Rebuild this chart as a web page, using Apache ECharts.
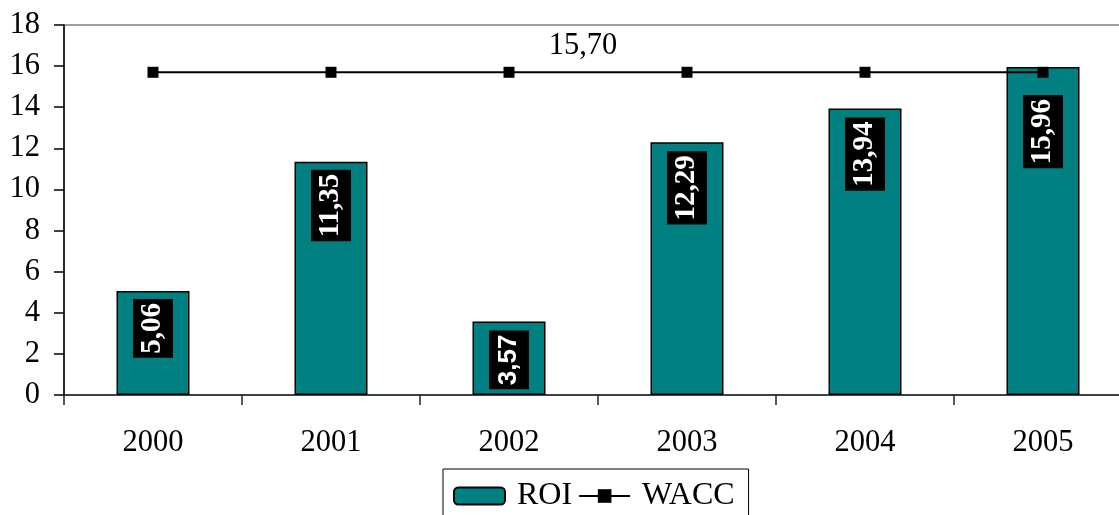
<!DOCTYPE html>
<html>
<head>
<meta charset="utf-8">
<script src="https://cdn.jsdelivr.net/npm/echarts@6/dist/echarts.min.js"></script>
<style>
  html, body { margin: 0; padding: 0; background: #fff; }
  #chart { width: 1119px; height: 515px; }
</style>
</head>
<body>
<div id="chart"></div>
<script>
// Yearly return on investment vs. weighted average cost of capital
const years = ['2000', '2001', '2002', '2003', '2004', '2005'];
const roi = [5.06, 11.35, 3.57, 12.29, 13.94, 15.96];
const wacc = [15.70, 15.70, 15.70, 15.70, 15.70, 15.70];
const yTicks = { min: 0, max: 18, step: 2 };

const serif = 'Liberation Serif';
const fmt = v => v.toFixed(2).replace('.', ',');

// distance of each rotated value box below its bar's top
const labelGap = [8, 8, 9, 9, 9, 28];

const chart = echarts.init(document.getElementById('chart'), null, { renderer: 'canvas' });

chart.setOption({
  animation: false,
  backgroundColor: '#fff',
  grid: {
    left: 64, top: 25, right: -13, bottom: 120,
    outerBoundsMode: 'none',
    show: true, borderColor: '#808080', borderWidth: 1.5, backgroundColor: 'transparent'
  },
  legend: {
    left: 443, top: 469,
    padding: [11, 14, 40, 10],
    borderColor: '#000', borderWidth: 1,
    itemWidth: 51, itemHeight: 17, itemGap: 6,
    textStyle: { fontFamily: serif, fontSize: 32, color: '#000', padding: [0, 0, 0, 7] },
    data: ['ROI', 'WACC']
  },
  xAxis: {
    type: 'category',
    data: years,
    boundaryGap: true,
    axisLine: { lineStyle: { color: '#222', width: 1.5 } },
    axisTick: { show: true, length: 10, lineStyle: { color: '#222', width: 1.5 } },
    axisLabel: { fontFamily: serif, fontSize: 30.5, color: '#000', margin: 32 }
  },
  yAxis: {
    type: 'value',
    min: yTicks.min, max: yTicks.max, interval: yTicks.step,
    splitLine: { show: false },
    axisLine: { show: true, lineStyle: { color: '#000', width: 1.5 } },
    axisTick: { show: true, length: 10, lineStyle: { color: '#000', width: 1.5 } },
    axisLabel: { fontFamily: serif, fontSize: 30.5, color: '#000', margin: 24 }
  },
  series: [
    {
      name: 'ROI',
      type: 'bar',
      barWidth: 73,
      itemStyle: { color: '#008080', borderColor: '#000', borderWidth: 1.5 },
      data: roi.map((v, i) => ({
        value: v,
        label: {
          show: true,
          position: ['50%', labelGap[i]],
          rotate: 90,
          align: 'right',
          verticalAlign: 'middle',
          formatter: () => fmt(v),
          fontFamily: i === 2 ? 'Liberation Sans' : serif,
          fontWeight: 'bold',
          fontSize: i === 2 ? 26 : 29,
          lineHeight: 34,
          color: '#fff',
          backgroundColor: '#000',
          padding: [3, 4, 3, 4]
        }
      }))
    },
    {
      name: 'WACC',
      type: 'line',
      symbol: 'rect',
      symbolSize: 11,
      lineStyle: { color: '#000', width: 2 },
      itemStyle: { color: '#000' },
      z: 5,
      data: wacc.map((v, i) => i === 2 ? {
        value: v,
        label: {
          show: true,
          position: 'top',
          distance: 5,
          offset: [74, 0],
          formatter: () => fmt(v),
          fontFamily: serif,
          fontSize: 30.5,
          color: '#000'
        }
      } : v)
    }
  ]
});
</script>
</body>
</html>
